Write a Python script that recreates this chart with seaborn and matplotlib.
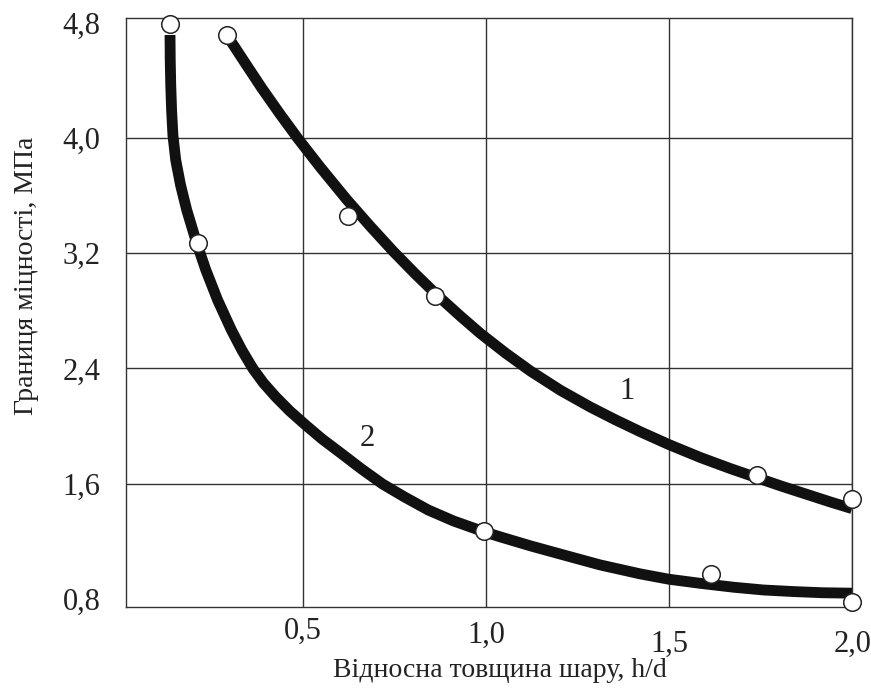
import matplotlib
matplotlib.use("Agg")
import matplotlib.pyplot as plt
import seaborn as sns
import pandas as pd

# ---- data ----
curve1_x = [0.292, 0.342, 0.388, 0.438, 0.487, 0.547, 0.620, 0.684, 0.747, 0.807,
            0.866, 0.930, 0.984, 1.053, 1.121, 1.203, 1.285, 1.353, 1.422, 1.499,
            1.586, 1.668, 1.741, 1.804, 1.878, 1.941, 1.999]
curve1_y = [4.717, 4.523, 4.346, 4.165, 3.995, 3.799, 3.572, 3.387, 3.212, 3.056,
            2.910, 2.763, 2.644, 2.507, 2.382, 2.248, 2.131, 2.043, 1.959, 1.871,
            1.780, 1.703, 1.639, 1.584, 1.523, 1.471, 1.426]

curve2_x = [0.137, 0.1376, 0.139, 0.1413, 0.1449, 0.1525, 0.1657, 0.1826, 0.2097,
            0.2348, 0.2668, 0.3045, 0.333, 0.364, 0.392, 0.425, 0.464, 0.507, 0.552,
            0.604, 0.660, 0.717, 0.777, 0.842, 0.911, 0.993, 1.039, 1.121, 1.221,
            1.312, 1.421, 1.499, 1.586, 1.677, 1.758, 1.841, 1.919, 1.999]
curve2_y = [4.717, 4.544, 4.370, 4.196, 4.022, 3.849, 3.675, 3.501, 3.272,
            3.084, 2.876, 2.667, 2.528, 2.396, 2.299, 2.204, 2.104, 2.007, 1.910,
            1.810, 1.701, 1.597, 1.507, 1.416, 1.340, 1.266, 1.229, 1.167, 1.097,
            1.034, 0.972, 0.935, 0.906, 0.879, 0.860, 0.849, 0.841, 0.838]

points1_x = [0.292, 0.622, 0.860, 1.741, 2.0]
points1_y = [4.72, 3.46, 2.90, 1.66, 1.49]
points2_x = [0.137, 0.214, 0.993, 1.613, 2.0]
points2_y = [4.79, 3.27, 1.27, 0.97, 0.78]

curve_labels = ["1", "2"]
label_x = [1.384, 0.675]
label_y = [2.239, 1.915]

x_ticks = [0.5, 1.0, 1.5, 2.0]
x_ticklabels = ["0,5", "1,0", "1,5", "2,0"]
y_ticks = [0.8, 1.6, 2.4, 3.2, 4.0, 4.8]
y_ticklabels = ["0,8", "1,6", "2,4", "3,2", "4,0", "4,8"]

x_title = "Відносна товщина шару, h/d"
y_title = "Границя міцності, МПа"

# ---- styling ----
sns.set_theme(style="white")
plt.rcParams["font.family"] = ["Liberation Serif", "DejaVu Serif"]

fig = plt.figure(figsize=(8.71, 6.88), dpi=100)
ax = fig.add_axes([125.7 / 871, 1 - 606.7 / 688, (852.3 - 125.7) / 871, (606.7 - 18.3) / 688])

df_lines = pd.concat([
    pd.DataFrame({"x": curve1_x, "y": curve1_y, "curve": "1"}),
    pd.DataFrame({"x": curve2_x, "y": curve2_y, "curve": "2"}),
])
df_pts = pd.concat([
    pd.DataFrame({"x": points1_x, "y": points1_y, "curve": "1"}),
    pd.DataFrame({"x": points2_x, "y": points2_y, "curve": "2"}),
])

sns.lineplot(data=df_lines, x="x", y="y", units="curve", estimator=None, sort=False,
             color="#111111", linewidth=7.8, ax=ax, legend=False,
             solid_capstyle="butt", solid_joinstyle="round", zorder=3)
sns.scatterplot(data=df_pts, x="x", y="y", s=160, color="white", edgecolor="#222222",
                linewidth=1.1, ax=ax, legend=False, zorder=5, clip_on=False)

for t, lx, ly in zip(curve_labels, label_x, label_y):
    ax.text(lx, ly, t, fontsize=22, ha="center", va="center", color="#222222")

ax.set_xlim(0.016, 2.0)
ax.set_ylim(0.744, 4.833)
ax.set_xticks(x_ticks)
ax.set_xticklabels(x_ticklabels)
ax.set_yticks(y_ticks)
ax.set_yticklabels(y_ticklabels)
ax.tick_params(axis="both", length=0, labelsize=22, colors="#222222")
ax.tick_params(axis="y", pad=18)

# staggered x tick labels as in the reference
for tk, pad in zip(ax.xaxis.get_major_ticks(), [7, 10, 17, 17]):
    tk.set_pad(pad)

ax.grid(True, color="#333333", linewidth=1.0)
# hide grid lines that would duplicate the frame
for tk in ax.yaxis.get_major_ticks():
    if abs(tk.get_loc() - 0.8) < 1e-6 or abs(tk.get_loc() - 4.8) < 1e-6:
        tk.gridline.set_visible(False)

for sp in ax.spines.values():
    sp.set_visible(True)
    sp.set_color("#333333")
    sp.set_linewidth(1.0)

ax.set_xlabel(x_title, fontsize=20, color="#222222")
ax.set_ylabel(y_title, fontsize=20, color="#222222")
ax.xaxis.label.set_va("center")
ax.yaxis.label.set_va("center")
ax.xaxis.set_label_coords(0.515, -0.1076)
ax.yaxis.set_label_coords(-0.137, 0.562)

fig.savefig("out.png", dpi=100, facecolor="white")
